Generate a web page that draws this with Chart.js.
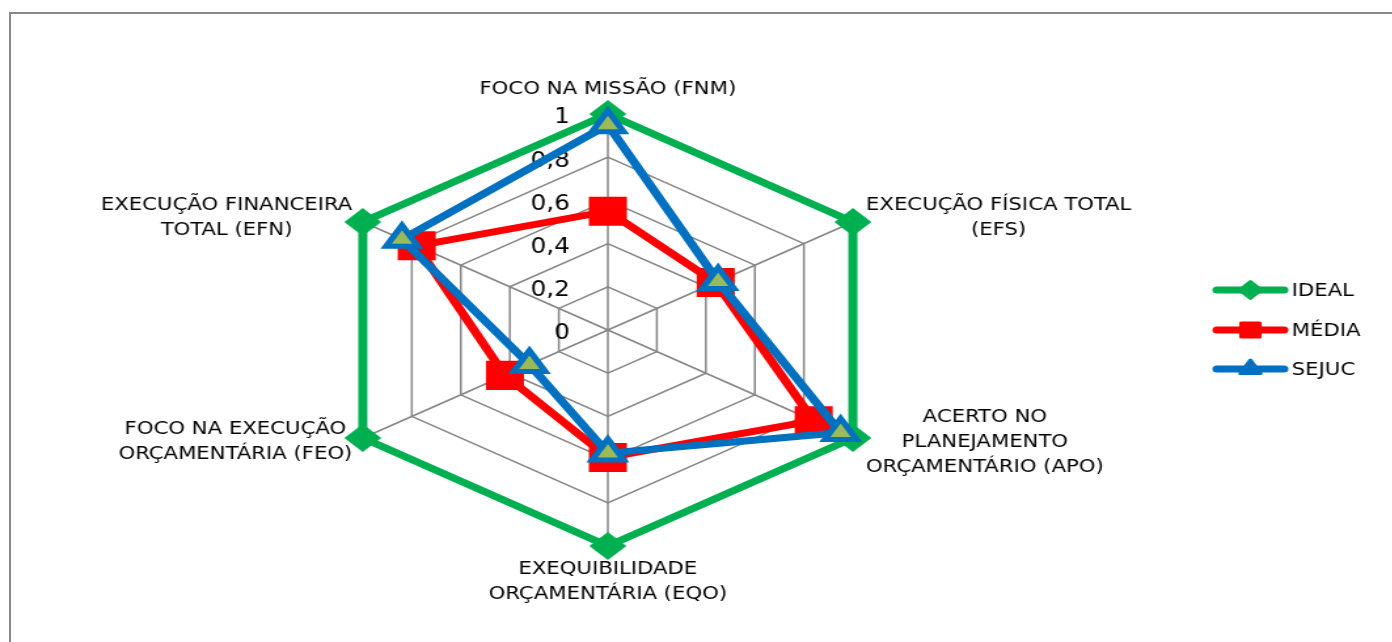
<!DOCTYPE html>
<html>
<head>
<meta charset="utf-8">
<script src="https://cdn.jsdelivr.net/npm/chart.js@4.4.0/dist/chart.umd.min.js"></script>
<style>
  html, body { margin:0; padding:0; background:#fff; overflow:hidden; width:1392px; height:642px; }
  #frame { position:absolute; left:9px; top:12px; width:1500px; height:800px; border:2px solid #898989; }
  #wrap { position:absolute; left:0; top:0; width:1063px; height:642px; transform:scaleX(1.31); transform-origin:0 0; }
</style>
</head>
<body>
<div id="frame"></div>
<div id="wrap"><canvas id="radar" width="1063" height="642"></canvas></div>
<script>
// data
const axisLabels = [
  ['FOCO NA MISSÃO (FNM)'],
  ['EXECUÇÃO FÍSICA TOTAL', '(EFS)'],
  ['ACERTO NO', 'PLANEJAMENTO', 'ORÇAMENTÁRIO (APO)'],
  ['EXEQUIBILIDADE', 'ORÇAMENTÁRIA (EQO)'],
  ['FOCO NA EXECUÇÃO', 'ORÇAMENTÁRIA (FEO)'],
  ['EXECUÇÃO FINANCEIRA', 'TOTAL (EFN)']
];
const seriesNames = ['IDEAL', 'MÉDIA', 'SEJUC'];
const ideal = [1, 1, 1, 1, 1, 1];
const media = [0.55, 0.44, 0.84, 0.59, 0.42, 0.78];
const sejuc = [0.95, 0.45, 0.95, 0.57, 0.32, 0.84];
const tickMin = 0, tickMax = 1, tickStep = 0.2;

const GREEN = '#00b050', RED = '#ff0000', BLUE = '#0070c0', OLIVE = '#9bbb59', GRID = '#868686';
const FONT = '"DejaVu Sans Condensed", "DejaVu Sans", sans-serif';
const LH = 25;

const fmt = v => String(Math.round(v * 10) / 10).replace('.', ',');

const legendItems = [
  { text: seriesNames[0], color: GREEN, style: 'rectRot', radius: 9, fill: GREEN, bw: 2 },
  { text: seriesNames[1], color: RED,   style: 'rect',    radius: 10, fill: RED, bw: 3 },
  { text: seriesNames[2], color: BLUE,  style: 'triangle', radius: 9, fill: BLUE, bw: 3 }
];

const ticksPlugin = {
  id: 'ticksText',
  beforeDatasetsDraw(chart) {
    const ctx = chart.ctx, r = chart.scales.r;
    ctx.save();
    ctx.fillStyle = '#000';
    ctx.font = '21px ' + FONT;
    ctx.textAlign = 'right';
    ctx.textBaseline = 'middle';
    r.ticks.forEach(t => {
      const d = r.getDistanceFromCenterForValue(t.value);
      ctx.fillText(fmt(t.value), r.xCenter - 29, r.yCenter - d + 4);
    });
    ctx.restore();
  }
};

const textPlugin = {
  id: 'axisText',
  afterDraw(chart) {
    const ctx = chart.ctx, r = chart.scales.r, R = r.drawingArea;
    ctx.save();
    ctx.fillStyle = '#000';
    ctx.font = '18px ' + FONT;
    ctx.textAlign = 'center';
    ctx.textBaseline = 'middle';
    axisLabels.forEach((lines, i) => {
      const p = r.getPointPosition(i, R);
      const dx = p.x - r.xCenter, dy = p.y - r.yCenter;
      const bw = Math.max(...lines.map(s => ctx.measureText(s).width));
      const bh = lines.length * LH;
      let cx, top;
      if (Math.abs(dx) < 1) {
        cx = p.x;
        top = dy < 0 ? p.y - 12 - bh : p.y + 11;
      } else {
        cx = dx > 0 ? p.x + 10 + bw / 2 : p.x - 8 - bw / 2;
        top = p.y - bh / 2 + (dy < 0 ? -4 : 4);
      }
      lines.forEach((s, k) => ctx.fillText(s, cx, top + LH * (k + 0.5)));
    });

    // legend: line with marker, like the spreadsheet one
    const lx0 = 929, lx1 = 980, mx = 954.5, tx = 986;
    const ly = [290, 330, 369];
    legendItems.forEach((it, i) => {
      const y = ly[i];
      ctx.strokeStyle = it.color;
      ctx.lineWidth = 7;
      ctx.lineCap = 'round';
      ctx.beginPath(); ctx.moveTo(lx0, y); ctx.lineTo(lx1, y); ctx.stroke();
      ctx.lineCap = 'butt';
      ctx.fillStyle = it.fill;
      ctx.strokeStyle = it.color;
      ctx.lineWidth = it.bw;
      ctx.lineJoin = 'round';
      Chart.helpers.drawPoint(ctx, { pointStyle: it.style, rotation: 0, radius: it.radius, borderWidth: it.bw }, mx, y);
      ctx.fillStyle = '#000';
      ctx.textAlign = 'left';
      ctx.fillText(it.text, tx, y + 1);
    });
    ctx.restore();
  }
};

new Chart(document.getElementById('radar'), {
  type: 'radar',
  data: {
    labels: axisLabels,
    datasets: [
      { label: seriesNames[0], data: ideal, order: 3, borderColor: GREEN, backgroundColor: GREEN,
        borderWidth: 7, fill: false, tension: 0, pointStyle: 'rectRot', pointRadius: 12,
        pointBorderWidth: 3, pointBackgroundColor: GREEN, pointBorderColor: GREEN, clip: false },
      { label: seriesNames[1], data: media, order: 2, borderColor: RED, backgroundColor: RED,
        borderWidth: 7, fill: false, tension: 0, pointStyle: 'rect', pointRadius: 17,
        pointBorderWidth: 5, pointBackgroundColor: RED, pointBorderColor: RED, clip: false },
      { label: seriesNames[2], data: sejuc, order: 1, borderColor: BLUE, backgroundColor: BLUE,
        borderWidth: 7, fill: false, tension: 0, pointStyle: 'triangle', pointRadius: 14,
        pointBorderWidth: 5, pointBackgroundColor: OLIVE, pointBorderColor: BLUE, clip: false }
    ]
  },
  options: {
    responsive: false,
    animation: false,
    devicePixelRatio: 1,
    layout: { padding: { left: 248, right: 383, top: 114, bottom: 96 } },
    plugins: { legend: { display: false }, tooltip: { enabled: false } },
    elements: { line: { borderJoinStyle: 'miter' } },
    scales: {
      r: {
        min: tickMin, max: tickMax,
        ticks: { stepSize: tickStep, display: false },
        pointLabels: { display: false },
        grid: { color: GRID, lineWidth: 1.5 },
        angleLines: { color: GRID, lineWidth: 1.5 }
      }
    }
  },
  plugins: [ticksPlugin, textPlugin]
});
</script>
</body>
</html>
